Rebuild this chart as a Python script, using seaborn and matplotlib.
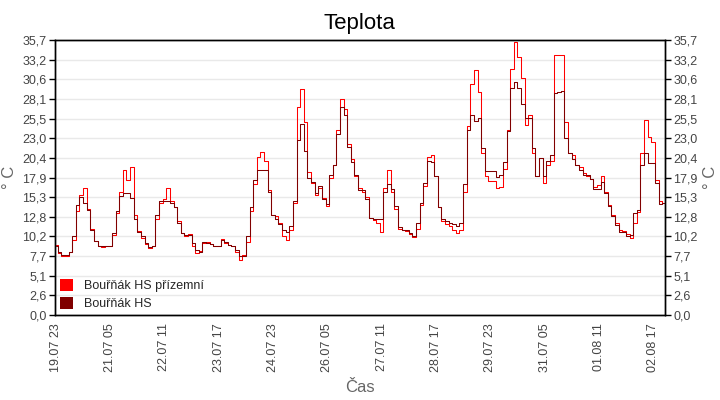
import numpy as np
import pandas as pd
import matplotlib
matplotlib.use("Agg")
import matplotlib.pyplot as plt
from matplotlib.patches import Patch
import seaborn as sns

# --- data: 2-hourly readings from 19.07 23:00 -------------------------------
start = "2014-07-19 23:00"
prizemni = [9.1, 8.0, 7.6, 7.7, 8.2, 9.8, 13.5, 15.6, 16.5, 13.8, 11.2, 9.6, 9.0, 8.8, 9.0, 9.0,
            10.4, 13.2, 16.0, 18.8, 17.5, 19.2, 13.0, 10.9, 10.0, 9.2, 8.7, 9.0, 12.5, 14.6, 15.0,
            16.5, 14.8, 14.0, 12.2,
            10.6, 10.3, 10.5, 9.0, 8.0, 8.3, 9.4, 9.5, 9.2, 9.0, 9.0, 9.9, 9.4, 9.1, 8.9, 8.2,
            7.1, 7.8, 9.5, 13.5, 17.0, 20.5, 21.2, 20.0, 16.2, 13.0, 12.8, 12.0, 10.2, 9.8, 11.0,
            14.5, 27.0, 29.3, 25.0,
            18.5, 17.2, 15.6, 16.5, 15.2, 14.1, 17.8, 19.5, 24.0, 28.0, 26.8, 22.2, 20.3, 18.0,
            16.5, 16.0, 15.3, 12.6, 12.3, 12.0, 10.8, 16.5, 18.8, 16.0, 13.8, 11.2, 11.0, 10.9,
            10.5, 10.1, 11.2, 14.3, 16.8, 20.5,
            20.8, 18.0, 14.0, 12.2, 11.8, 11.5, 11.0, 10.7, 11.0, 16.0, 24.5, 30.0, 31.8, 29.0,
            21.0, 18.0, 17.4, 17.4, 16.5, 16.6, 19.0, 24.0, 32.0, 35.5, 33.5, 30.8, 24.7, 26.0,
            21.0, 18.0, 20.4, 17.2, 19.5, 20.0,
            33.8, 33.8, 33.8, 25.0, 21.0, 20.8, 19.5, 19.2, 18.4, 18.0, 17.6, 16.6, 16.9, 18.0,
            16.0, 14.3, 13.0, 11.9, 11.0, 10.9, 10.5, 10.0, 12.0, 13.4, 21.0, 25.3, 23.1, 22.5,
            17.5, 14.8, 14.6]
hs = [9.0, 8.2, 7.8, 7.8, 8.2, 10.2, 14.3, 15.3, 14.6, 13.6, 11.0, 9.6, 9.0, 8.9, 9.0, 9.0,
      10.6, 13.5, 15.5, 15.9, 15.9, 15.2, 12.5, 10.8, 10.2, 9.3, 8.8, 9.0, 13.0, 14.8, 14.8,
      14.8, 14.6, 14.0, 12.0,
      10.6, 10.4, 10.4, 9.3, 8.4, 8.2, 9.5, 9.4, 9.2, 9.0, 9.0, 9.8, 9.5, 9.1, 8.9, 8.4,
      7.7, 7.6, 10.2, 14.0, 17.5, 18.8, 18.8, 18.8, 16.0, 13.0, 12.5, 11.8, 11.0, 10.8, 11.5,
      14.8, 22.7, 24.8, 21.3,
      17.8, 17.3, 15.8, 16.8, 15.0, 14.4, 18.2, 19.5, 23.5, 27.0, 26.0, 21.8, 19.9, 18.2,
      16.2, 16.2, 15.0, 12.6, 12.4, 12.4, 12.4, 16.0, 17.0, 16.4, 14.2, 11.4, 11.0, 11.0,
      10.6, 10.3, 12.0, 14.6, 17.2, 20.0,
      19.9, 18.0, 14.0, 12.5, 12.2, 12.0, 11.8, 11.5, 12.0, 17.0, 24.0, 26.0, 25.2, 25.6,
      21.7, 18.7, 18.7, 18.7, 17.9, 18.2, 19.9, 23.9, 29.5, 30.3, 29.5, 27.4, 25.6, 25.6,
      21.7, 18.0, 20.4, 18.0, 20.0, 20.8,
      28.8, 28.9, 29.1, 23.0, 21.0, 20.3, 19.5, 18.8, 18.2, 18.2, 17.6, 16.4, 16.4, 17.3,
      15.8, 14.1, 12.8, 11.7, 10.8, 10.8, 10.3, 10.4, 13.2, 13.6, 19.5, 21.0, 19.7, 19.7,
      17.1, 14.4, 14.5]
nazvy = ["Bouřňák HS přízemní", "Bouřňák HS"]
barvy = ["#ff0000", "#800000"]
y_ticks = [0.0, 2.55, 5.1, 7.65, 10.2, 12.75, 15.3, 17.85, 20.4, 22.95, 25.5, 28.05, 30.6, 33.15, 35.7]
y_labels = ["0,0", "2,6", "5,1", "7,7", "10,2", "12,8", "15,3", "17,9", "20,4", "23,0",
            "25,5", "28,1", "30,6", "33,2", "35,7"]

cas = pd.date_range(start, periods=len(hs), freq="2h")
df = pd.DataFrame({"Čas": cas, nazvy[0]: prizemni, nazvy[1]: hs})
long = df.melt(id_vars="Čas", var_name="Stanice", value_name="Teplota")

sns.set_theme(style="white")
plt.rcParams["font.family"] = ["Liberation Sans Narrow", "Liberation Sans", "DejaVu Sans"]

fig = plt.figure(figsize=(7.2, 4), dpi=100)
ax = fig.add_axes([0.0764, 0.2125, 0.847, 0.6875])

sns.lineplot(data=long, x="Čas", y="Teplota", hue="Stanice", hue_order=nazvy,
             palette=dict(zip(nazvy, barvy)), estimator=None, drawstyle="steps-mid",
             linewidth=0.75, legend=False, ax=ax)

t0 = pd.Timestamp(start)
ax.set_xlim(t0 - pd.Timedelta(minutes=30), t0 + pd.Timedelta(hours=336.5))
xt = [t0 + pd.Timedelta(hours=30 * i) for i in range(12)]
ax.set_xticks(xt)
ax.set_xticklabels([t.strftime("%d.%m %H") for t in xt], rotation=90)
ax.set_ylim(0, 35.7)
ax.set_yticks(y_ticks)
ax.set_yticklabels(y_labels)
ax.grid(axis="y", color="#e9e9e9", linewidth=1)
ax.set_axisbelow(True)

ax2 = ax.twinx()
ax2.set_ylim(0, 35.7)
ax2.set_yticks(y_ticks)
ax2.set_yticklabels(y_labels)

for a in (ax, ax2):
    a.tick_params(direction="out", length=4, width=1, color="black",
                  labelsize=9, labelcolor="#444444", pad=2)
    for s in a.spines.values():
        s.set_color("black")
        s.set_linewidth(1)

ax.set_xlabel("Čas", fontsize=12, color="#666666", labelpad=6)
ax.set_ylabel("° C", fontsize=12, color="#666666")
ax2.set_ylabel("° C", fontsize=12, color="#666666", rotation=90)
ax.yaxis.set_label_coords(-0.062, 0.5)
ax2.yaxis.set_label_coords(1.062, 0.5)
ax.set_title("Teplota", fontsize=16, color="black", pad=8)

handles = [Patch(facecolor=c, edgecolor="none") for c in barvy]
ax.legend(handles, nazvy, loc="lower left", frameon=False, fontsize=9,
          handlelength=1.05, handleheight=1.1, handletextpad=0.9, labelspacing=0.35,
          borderaxespad=0.2, borderpad=0.2)

fig.savefig("out.png", dpi=100)
